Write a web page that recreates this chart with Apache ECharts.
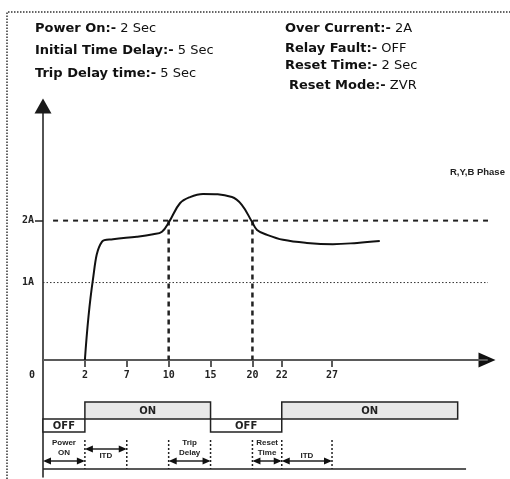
<!DOCTYPE html>
<html>
<head>
<meta charset="utf-8">
<script src="https://cdn.jsdelivr.net/npm/echarts@6/dist/echarts.min.js"></script>
<style>
	html, body { margin: 0; padding: 0; background: #fff; }
	#chart { width: 510px; height: 479px; }
</style>
</head>
<body>
<div id="chart"></div>
<script>
// x axis is in "diagram units": ticks are not evenly spaced in seconds
var tickUnits = [0, 10, 20, 30, 40, 50, 57, 69];
var tickLabels = ['0', '2', '7', '10', '15', '20', '22', '27'];

// current curve (x in diagram units, y in A)
var currentX = [10, 11.9, 14.1, 16.7, 22.4, 26.3, 28.4, 30.1, 32.7, 35.1, 38.2, 45.1, 47.5, 49.9, 51.1, 53.5, 57.3, 63.0, 69.2, 75.0, 80.4];
var currentY = [-0.25, 1.04, 1.66, 1.70, 1.74, 1.78, 1.82, 1.98, 2.28, 2.38, 2.43, 2.38, 2.25, 1.98, 1.85, 1.77, 1.69, 1.64, 1.62, 1.64, 1.67];

var overCurrent = 2;
var refCurrent = 1;
var tripMarks = [30, 50];

// relay states
var relayStart = [0, 10, 40, 57];
var relayEnd = [10, 40, 57, 99];
var relayState = ['OFF', 'ON', 'OFF', 'ON'];

// timing spans
var spanFrom = [0, 10, 30, 50, 57];
var spanTo = [10, 20, 40, 57, 69];
var spanRow = [2, 1, 2, 2, 2];
var spanText = ['Power\nON', 'ITD', 'Trip\nDelay', 'Reset\nTime', 'ITD'];
var markUnits = [10, 20, 30, 40, 50, 57, 69];

var xMax = 106;
var headFont = '"DejaVu Sans"';
var monoFont = '"DejaVu Sans Mono"';

function headTitle(label, value, left, top) {
	return {
		left: left,
		top: top,
		padding: 0,
		text: '{b|' + label + '}{r| ' + value + '}',
		textStyle: {
			rich: {
				b: { fontFamily: headFont, fontWeight: 'bold', fontSize: 13, color: '#111' },
				r: { fontFamily: headFont, fontWeight: 'normal', fontSize: 13, color: '#111' }
			}
		}
	};
}

// relay ON/OFF boxes
function renderRelay(params, api) {
	var on = api.value(2) === 1;
	var p1 = api.coord([api.value(0), on ? 42 : 59]);
	var p2 = api.coord([api.value(1), on ? 59 : 72]);
	return {
		type: 'group',
		children: [{
			type: 'rect',
			shape: { x: p1[0], y: p1[1], width: p2[0] - p1[0], height: p2[1] - p1[1] },
			style: { fill: on ? '#e8e8e8' : '#fff', stroke: '#222', lineWidth: 1.5 }
		}, {
			type: 'text',
			style: {
				text: on ? 'ON' : 'OFF',
				x: (p1[0] + p2[0]) / 2,
				y: (p1[1] + p2[1]) / 2 + 1,
				align: 'center',
				verticalAlign: 'middle',
				font: 'bold 10px "DejaVu Sans"',
				fill: '#222'
			}
		}]
	};
}

// double arrows with labels
function renderSpan(params, api) {
	var i = params.dataIndex;
	var rowY = api.value(2) === 1 ? 89 : 101;
	var a = api.coord([api.value(0), rowY]);
	var b = api.coord([api.value(1), rowY]);
	var label = spanText[i];
	var t = api.coord([(api.value(0) + api.value(1)) / 2, label.indexOf('\n') > -1 ? 88 : 96]);
	var y = a[1];
	return {
		type: 'group',
		children: [{
			type: 'line',
			shape: { x1: a[0] + 2, y1: y, x2: b[0] - 2, y2: y },
			style: { stroke: '#222', lineWidth: 1.5 }
		}, {
			type: 'polygon',
			shape: { points: [[a[0], y], [a[0] + 8, y - 3.5], [a[0] + 8, y + 3.5]] },
			style: { fill: '#111' }
		}, {
			type: 'polygon',
			shape: { points: [[b[0], y], [b[0] - 8, y - 3.5], [b[0] - 8, y + 3.5]] },
			style: { fill: '#111' }
		}, {
			type: 'text',
			style: {
				text: label,
				x: t[0],
				y: t[1],
				align: 'center',
				verticalAlign: 'middle',
				lineHeight: 10,
				font: 'bold 8px "Liberation Sans"',
				fill: '#222'
			}
		}]
	};
}

function renderMark(params, api) {
	var a = api.coord([api.value(0), 80]);
	var b = api.coord([api.value(0), 109]);
	return {
		type: 'line',
		shape: { x1: a[0], y1: a[1], x2: b[0], y2: b[1] },
		style: { stroke: '#222', lineWidth: 1.5, lineDash: [2, 2] }
	};
}

var chart = echarts.init(document.getElementById('chart'));

var option = {
	animation: false,
	backgroundColor: '#fff',
	title: [
		headTitle('Power On:-', '2 Sec', 35, 22),
		headTitle('Initial Time Delay:-', '5 Sec', 35, 44),
		headTitle('Trip Delay time:-', '5 Sec', 35, 67),
		headTitle('Over Current:-', '2A', 285, 22),
		headTitle('Relay Fault:-', 'OFF', 285, 42),
		headTitle('Reset Time:-', '2 Sec', 285, 59),
		headTitle('Reset Mode:-', 'ZVR', 289, 79),
		{
			left: 450,
			top: 167,
			padding: 0,
			text: 'R,Y,B Phase',
			textStyle: { fontFamily: '"Liberation Sans"', fontWeight: 'bold', fontSize: 9.5, color: '#222' }
		}
	],
	grid: [
		{ left: 43, right: 23, top: 106, bottom: 119 },
		{ left: 43, right: 23, top: 360, bottom: 2 }
	],
	xAxis: [{
		gridIndex: 0,
		type: 'value',
		position: 'bottom',
		min: 0,
		max: xMax,
		z: 3,
		axisLine: { onZero: false, lineStyle: { color: '#5a5a5a', width: 2 } },
		axisTick: {
			customValues: tickUnits.slice(1),
			length: 7,
			lineStyle: { color: '#5a5a5a', width: 2 }
		},
		axisLabel: {
			customValues: tickUnits,
			margin: 10,
			fontFamily: monoFont,
			fontWeight: 'bold',
			fontSize: 10,
			color: '#222',
			formatter: function(v) {
				var i = tickUnits.indexOf(v);
				if(i === 0) {
					return '{z|0}';
				}
				return i > -1 ? tickLabels[i] : '';
			},
			rich: {
				z: { fontFamily: monoFont, fontWeight: 'bold', fontSize: 10, color: '#222', padding: [0, 22, 0, 0] }
			}
		},
		splitLine: { show: false }
	}, {
		// black arrow head only, line hidden under the grey one
		gridIndex: 0,
		type: 'value',
		position: 'bottom',
		min: 0,
		max: xMax,
		z: 2,
		axisLine: {
			onZero: false,
			symbol: ['none', 'triangle'],
			symbolSize: [15, 17],
			lineStyle: { color: '#111', width: 1 }
		},
		axisTick: { show: false },
		axisLabel: { show: false },
		splitLine: { show: false }
	}, {
		gridIndex: 1,
		type: 'value',
		min: 0,
		max: xMax,
		show: false
	}],
	yAxis: [{
		gridIndex: 0,
		type: 'value',
		min: -0.25,
		max: 3.85,
		axisLine: {
			show: true,
			onZero: false,
			symbol: ['none', 'triangle'],
			symbolSize: [17, 15],
			lineStyle: { color: '#1a1a1a', width: 1.5 }
		},
		axisTick: {
			show: true,
			customValues: [overCurrent],
			length: 8,
			lineStyle: { color: '#222', width: 1.5 }
		},
		axisLabel: {
			customValues: [refCurrent, overCurrent],
			margin: 9,
			fontFamily: monoFont,
			fontWeight: 'bold',
			fontSize: 10,
			color: '#222',
			formatter: function(v) {
				return v + 'A';
			}
		},
		splitLine: { show: false }
	}, {
		gridIndex: 1,
		type: 'value',
		min: 0,
		max: 117,
		inverse: true,
		axisLine: { show: true, onZero: false, lineStyle: { color: '#1a1a1a', width: 1.5 } },
		axisTick: { show: false },
		axisLabel: { show: false },
		splitLine: { show: false }
	}],
	series: [{
		name: 'R,Y,B Phase',
		type: 'line',
		xAxisIndex: 0,
		yAxisIndex: 0,
		smooth: 0.4,
		symbol: 'none',
		z: 5,
		lineStyle: { color: '#111', width: 2 },
		data: currentX.map(function(x, i) { return [x, currentY[i]]; })
	}, {
		name: 'overCurrent',
		type: 'line',
		xAxisIndex: 0,
		yAxisIndex: 0,
		clip: false,
		symbol: 'none',
		lineStyle: { color: '#222', width: 2, type: [5, 5] },
		data: [[2.4, overCurrent], [108.4, overCurrent]]
	}, {
		name: 'refCurrent',
		type: 'line',
		xAxisIndex: 0,
		yAxisIndex: 0,
		clip: false,
		symbol: 'none',
		lineStyle: { color: '#333', width: 1, type: [1.5, 2] },
		data: [[0, refCurrent], [108.4, refCurrent]]
	}].concat(tripMarks.map(function(x) {
		return {
			type: 'line',
			xAxisIndex: 0,
			yAxisIndex: 0,
			symbol: 'none',
			lineStyle: { color: '#222', width: 2.5, type: [5, 4] },
			data: [[x, overCurrent], [x, -0.25]]
		};
	})).concat([{
		name: 'relay',
		type: 'custom',
		xAxisIndex: 2,
		yAxisIndex: 1,
		renderItem: renderRelay,
		data: relayStart.map(function(s, i) {
			return [s, relayEnd[i], relayState[i] === 'ON' ? 1 : 0];
		})
	}, {
		name: 'marks',
		type: 'custom',
		xAxisIndex: 2,
		yAxisIndex: 1,
		renderItem: renderMark,
		data: markUnits.map(function(x) { return [x]; })
	}, {
		name: 'spans',
		type: 'custom',
		xAxisIndex: 2,
		yAxisIndex: 1,
		renderItem: renderSpan,
		data: spanFrom.map(function(f, i) { return [f, spanTo[i], spanRow[i]]; })
	}, {
		name: 'baseline',
		type: 'line',
		xAxisIndex: 2,
		yAxisIndex: 1,
		symbol: 'none',
		lineStyle: { color: '#222', width: 1.5 },
		data: [[0, 109], [101, 109]]
	}]),
	graphic: [{
		// dotted frame
		type: 'polyline',
		shape: { points: [[7, 479], [7, 12], [510, 12]] },
		style: { fill: null, stroke: '#333', lineWidth: 1.5, lineDash: [1.5, 1.5] }
	}]
};

chart.setOption(option);
</script>
</body>
</html>
